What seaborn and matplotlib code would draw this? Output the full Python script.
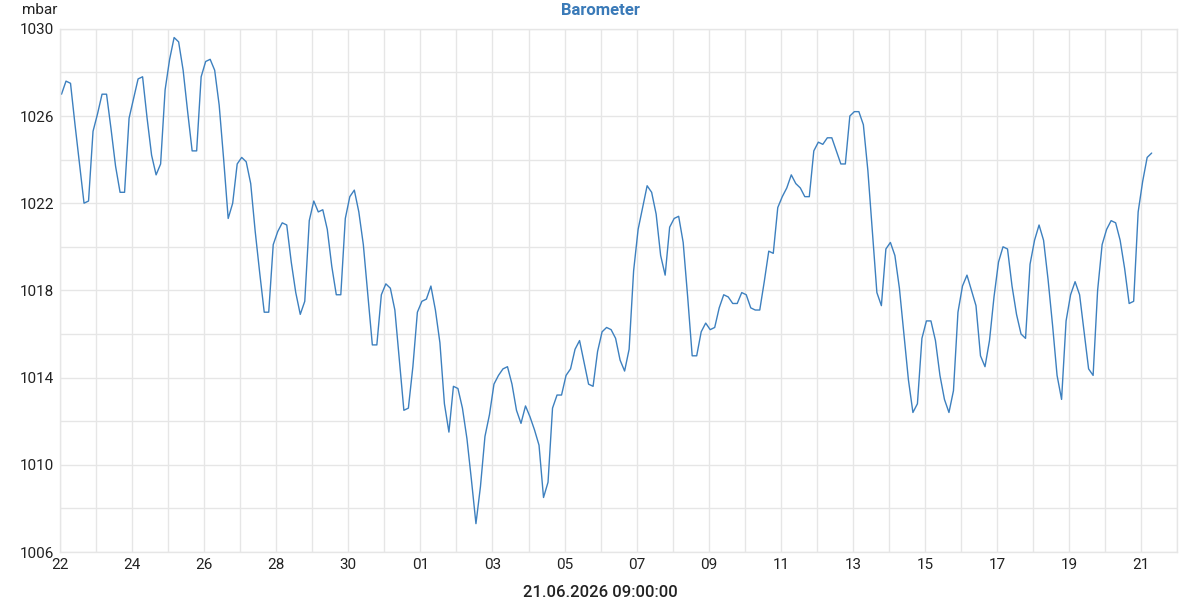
import matplotlib
matplotlib.use("Agg")
import matplotlib.pyplot as plt
import matplotlib.dates as mdates
import numpy as np
import pandas as pd
import seaborn as sns

# 3-hourly barometer readings (mbar), first reading 22.05.2026 01:00
pressure_may22_27 = [
    1027.0, 1027.6, 1027.5, 1025.6, 1023.8, 1022.0, 1022.1, 1025.3,
    1026.1, 1027.0, 1027.0, 1025.4, 1023.7, 1022.5, 1022.5, 1025.9,
    1026.8, 1027.7, 1027.8, 1025.9, 1024.2, 1023.3, 1023.8, 1027.2,
    1028.6, 1029.6, 1029.4, 1028.1, 1026.2, 1024.4, 1024.4, 1027.8,
    1028.5, 1028.6, 1028.1, 1026.5, 1024.0, 1021.3, 1022.0, 1023.8,
    1024.1, 1023.9, 1022.9, 1020.7,
]
pressure_may27_jun01 = [
    1018.8, 1017.0, 1017.0, 1020.1, 1020.7, 1021.1, 1021.0, 1019.3,
    1017.9, 1016.9, 1017.5, 1021.2, 1022.1, 1021.6, 1021.7, 1020.8,
    1019.1, 1017.8, 1017.8, 1021.3, 1022.3, 1022.6, 1021.6, 1020.1,
    1017.8, 1015.5, 1015.5, 1017.8, 1018.3, 1018.1, 1017.1, 1014.8,
    1012.5, 1012.6, 1014.5, 1017.0, 1017.5, 1017.6, 1018.2, 1017.1,
    1015.6, 1012.8, 1011.5,
]
pressure_jun02_06 = [
    1013.6, 1013.5, 1012.6, 1011.2, 1009.3, 1007.3, 1009.0, 1011.3,
    1012.3, 1013.7, 1014.1, 1014.4, 1014.5, 1013.7, 1012.5, 1011.9,
    1012.7, 1012.2, 1011.6, 1010.9, 1008.5, 1009.2, 1012.6, 1013.2,
    1013.2, 1014.1, 1014.4, 1015.3, 1015.7, 1014.7, 1013.7, 1013.6,
    1015.2, 1016.1, 1016.3, 1016.2, 1015.8, 1014.8, 1014.3, 1015.3,
    1018.9, 1020.8,
]
pressure_jun07_12 = [
    1021.8, 1022.8, 1022.5, 1021.5, 1019.6, 1018.7, 1020.9, 1021.3,
    1021.4, 1020.2, 1017.7, 1015.0, 1015.0, 1016.1, 1016.5, 1016.2,
    1016.3, 1017.2, 1017.8, 1017.7, 1017.4, 1017.4, 1017.9, 1017.8,
    1017.2, 1017.1, 1017.1, 1018.4, 1019.8, 1019.7, 1021.8, 1022.3,
    1022.7, 1023.3, 1022.9, 1022.7, 1022.3, 1022.3, 1024.4, 1024.8,
    1024.7, 1025.0, 1025.0, 1024.4,
]
pressure_jun12_17 = [
    1023.8, 1023.8, 1026.0, 1026.2, 1026.2, 1025.6, 1023.5, 1020.7,
    1017.9, 1017.3, 1019.9, 1020.2, 1019.6, 1018.1, 1016.0, 1013.9,
    1012.4, 1012.8, 1015.8, 1016.6, 1016.6, 1015.7, 1014.1, 1013.0,
    1012.4, 1013.4, 1017.0, 1018.2, 1018.7, 1018.0, 1017.3, 1015.0,
    1014.5, 1015.7, 1017.7, 1019.3, 1020.0, 1019.9, 1018.2, 1016.9,
    1016.0, 1015.8, 1019.2, 1020.3,
]
pressure_jun18_21 = [
    1021.0, 1020.3, 1018.5, 1016.4, 1014.1, 1013.0, 1016.6, 1017.8,
    1018.4, 1017.8, 1016.1, 1014.4, 1014.1, 1018.0, 1020.1, 1020.8,
    1021.2, 1021.1, 1020.3, 1019.0, 1017.4, 1017.5, 1021.6, 1023.0,
    1024.1, 1024.3,
]

pressure = (pressure_may22_27 + pressure_may27_jun01 + pressure_jun02_06
            + pressure_jun07_12 + pressure_jun12_17 + pressure_jun18_21)
times = pd.date_range("2026-05-22 01:00", periods=len(pressure), freq="3h")
df = pd.DataFrame({"time": times, "mbar": pressure})

label_days = pd.date_range("2026-05-22", "2026-06-21", freq="2D")
grid_days = pd.date_range("2026-05-22", "2026-06-22", freq="D")

sns.set_theme(style="white")
plt.rcParams["font.family"] = ["Roboto", "DejaVu Sans"]

grid_color = "#e6e6e6"
line_color = "#3d80bf"
text_color = "#222222"

fig = plt.figure(figsize=(12, 6), dpi=100)
ax = fig.add_axes([0.05, 0.08, 0.931, 0.872])

sns.lineplot(data=df, x="time", y="mbar", ax=ax, color=line_color, linewidth=1.0)

ax.set_xlim(pd.Timestamp("2026-05-22"), pd.Timestamp("2026-06-22"))
ax.set_ylim(1006, 1030)
ax.set_xticks(label_days)
ax.set_xticks(grid_days, minor=True)
ax.xaxis.set_major_formatter(mdates.DateFormatter("%d"))
ax.set_yticks(np.arange(1006, 1031, 4))
ax.set_yticks(np.arange(1008, 1030, 4), minor=True)

ax.grid(True, which="both", color=grid_color, linewidth=1.0)
ax.set_axisbelow(True)
for s in ax.spines.values():
    s.set_color(grid_color)
    s.set_linewidth(1.0)

ax.tick_params(which="both", length=0, labelsize=11, colors=text_color)
ax.tick_params(axis="x", pad=4)
ax.tick_params(axis="y", pad=4)

ax.set_xlabel("")
ax.set_ylabel("")
fig.text(0.5, 0.012, "21.06.2026 09:00:00", ha="center", va="center",
         fontsize=12, fontweight="medium", color=text_color)
fig.text(0.5, 0.983, "Barometer", ha="center", va="center",
         fontsize=12, fontweight="bold", color="#3a7ab8")
fig.text(0.018, 0.983, "mbar", ha="left", va="center",
         fontsize=11, color=text_color)

fig.savefig("out.png", dpi=100)
